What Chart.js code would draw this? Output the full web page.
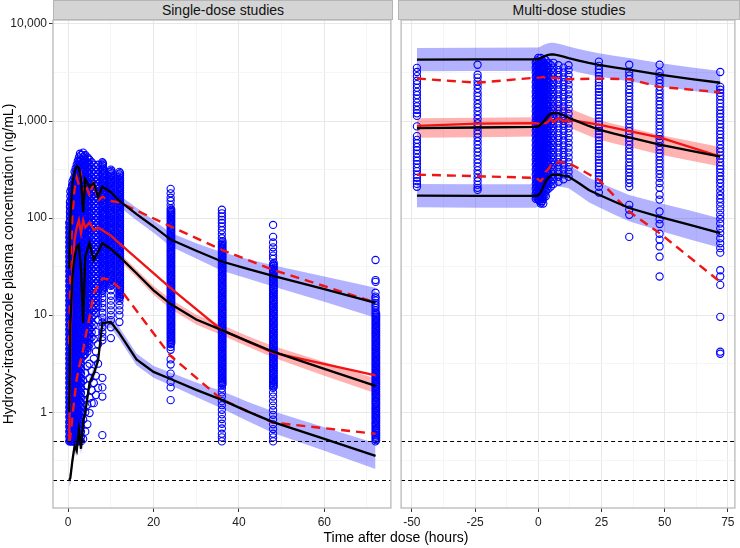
<!DOCTYPE html>
<html lang="en">
<head>
  <meta charset="UTF-8" />
  <title>Hydroxy-itraconazole VPC</title>
  <script src="https://cdn.jsdelivr.net/npm/chart.js"></script>
  <style>
    body {
      margin: 0;
      background: #fff;
      font-family: 'Liberation Sans', Arial, sans-serif;
    }
    #wrap {
      position: relative;
      width: 740px;
      height: 548px;
      overflow: hidden;
    }
    canvas {
      position: absolute;
      top: 0;
    }
    .strip {
      position: absolute;
      top: 0;
      height: 20px;
      background: #d4d4d4;
      border: 1px solid #b5b5b5;
      box-sizing: border-box;
      font-size: 14px;
      line-height: 18px;
      text-align: center;
      color: #111;
    }
    .xtitle {
      position: absolute;
      top: 529px;
      left: 53px;
      width: 686px;
      text-align: center;
      font-size: 14px;
      color: #000;
    }
  </style>
</head>
<body>

<div id="wrap">
  <canvas id="sdChart" width="396" height="548" style="left:0"></canvas>
  <canvas id="mdChart" width="344" height="548" style="left:396px"></canvas>
  <div class="strip" style="left:53px;width:340px">Single-dose studies</div>
  <div class="strip" style="left:398px;width:342px">Multi-dose studies</div>
  <div class="xtitle">Time after dose (hours)</div>
</div>

<script>
  // axis ticks
  const yMajor = [1, 10, 100, 1000, 10000];
  const yMinor = [0.316, 3.16, 31.6, 316, 3162];
  const sdXMajor = [0, 20, 40, 60];
  const sdXMinor = [10, 30, 50, 70];
  const mdXMajor = [-50, -25, 0, 25, 50, 75];
  const mdXMinor = [-37.5, -12.5, 12.5, 37.5, 62.5];
  const lloqValues = [0.5, 0.2];

  // ---- single-dose: simulated percentiles (black) + confidence bands
  const sdSimTime = [0.25,0.5,1,1.5,2,2.5,3,3.5,4,5,6,7,8,10,12,16,20,24,30,36,42,48,60,72];
  const sdSimP95 = [30,100,230,300,340,330,250,115,250,210,230,165,210,185,150,110,82,60,46,35.7,30,25.4,18.5,13.4];
  const sdSimP50 = [1,8,25,40,50,53,30,8.3,40,55,37,45,55,48,40,27,18,13,9,7,5.4,4.2,2.8,1.87];
  const sdSimP05 = [0.2,0.21,0.32,0.45,0.4,0.66,0.42,0.8,1.0,2.0,2.5,3.4,8.3,8.5,6.5,3.5,2.6,2.2,1.7,1.34,1.02,0.79,0.53,0.355];
  const sdHiBandLo = [26.1,87,200,261,296,287,218,100,218,183,200,144,183,161,131,95,70.5,51,38.3,28.7,23.8,19.7,13.7,9.4];
  const sdHiBandHi = [34.4,115,264,345,390,379,287,132,287,241,264,189,241,212,172,128,95,70.5,55,44.4,37.8,32.7,25,19.1];
  const sdMedBandLo = [0.91,7.3,22.8,36.5,45.6,48.3,27.4,7.6,36.5,50.2,33.7,41,50.2,43.8,36.5,24.6,16.2,11.6,8.0,6.2,4.76,3.66,2.38,1.57];
  const sdMedBandHi = [1.1,8.8,27.4,43.9,54.8,58.1,32.9,9.1,43.9,60.3,40.6,49.3,60.3,52.6,43.9,29.6,20,14.6,10.1,7.9,6.1,4.82,3.29,2.22];
  const sdLoBandLo = [0.174,0.183,0.279,0.39,0.35,0.575,0.366,0.7,0.87,1.74,2.18,2.96,7.2,7.4,5.66,3.05,2.26,1.89,1.43,1.09,0.81,0.61,0.4,0.26];
  const sdLoBandHi = [0.23,0.241,0.367,0.52,0.46,0.76,0.482,0.92,1.15,2.3,2.87,3.9,9.5,9.8,7.46,4.02,2.99,2.56,2.02,1.65,1.28,1.02,0.7,0.48];

  // single-dose: observed percentiles (red)
  const sdBinTime = [0.25,0.5,1,1.5,2,2.5,3,3.5,4,5,6,7,8,10,12,24,36,48,72];
  const sdObsP95 = [5,30,110,200,260,220,270,160,230,170,240,150,166,150,145,82,47,29.3,13.5];
  const sdObsP50 = [0.5,5,30,60,80,95,70,95,80,90,75,80,75,66,55,19,7,4.1,2.4];
  const sdObsP05 = [0.5,0.56,0.9,1.44,2.2,2.9,3.5,4.4,5.8,9.6,17,20,24,23,19,3.8,1.35,0.78,0.6];

  // single-dose: observations, one list per sampling time
  const sdObsTime = [0.25,0.5,0.75,1,1.25,1.5,2,2.5,3,3.5,4,4.5,5,5.5,6,6.5,7,8,10,12,24,36,48,72,
                     0.4,0.9,1.75,2.25,2.75,3.75,4.75,8.15,10.15,12.15,24.15,36.15,48.15,72.15];
  const sdObsConc = [
    [0.5,0.56,0.63,0.71,0.79,0.89,1.0,1.12,1.26,1.41,1.58,1.78,2.0,2.24,2.51,2.82,3.16,3.55,3.98,4.47,5.01,5.62,6.31,7.08,7.94,8.91,10,11.2,12.6,14.1,15.8,17.8,20,22.4,25.1,28.2,31.6,35.5,39.8,44.7,50.1,56.2,63.1,70.8,79.4,89.1],
    [0.5,0.53,0.59,0.67,0.75,0.84,0.94,1.06,1.19,1.33,1.5,1.68,1.88,2.11,2.37,2.66,2.99,3.35,3.76,4.22,4.73,5.31,5.96,6.68,7.5,8.41,9.44,10.6,11.9,13.3,15,16.8,18.8,21.1,23.7,26.6,29.9,33.5,37.6,42.2,47.3,53.1,59.6,66.8,75,84.1,94.4,106,119,133,150,168,188],
    [0.5,0.56,0.63,0.71,0.79,0.89,1.0,1.12,1.26,1.41,1.58,1.78,2.0,2.24,2.51,2.82,3.16,3.55,3.98,4.47,5.01,5.62,6.31,7.08,7.94,8.91,10,11.2,12.6,14.1,15.8,17.8,20,22.4,25.1,28.2,31.6,35.5,39.8,44.7,50.1,56.2,63.1,70.8,79.4,89.1,100,112,126,141,158,178,200],
    [0.5,0.53,0.59,0.67,0.75,0.84,0.94,1.06,1.19,1.33,1.5,1.68,1.88,2.11,2.37,2.66,2.99,3.35,3.76,4.22,4.73,5.31,5.96,6.68,7.5,8.41,9.44,10.6,11.9,13.3,15,16.8,18.8,21.1,23.7,26.6,29.9,33.5,37.6,42.2,47.3,53.1,59.6,66.8,75,84.1,94.4,106,119,133,150,168,188,211,237],
    [0.5,0.56,0.63,0.71,0.79,0.89,1.0,1.12,1.26,1.41,1.58,1.78,2.0,2.24,2.51,2.82,3.16,3.55,3.98,4.47,5.01,5.62,6.31,7.08,7.94,8.91,10,11.2,12.6,14.1,15.8,17.8,20,22.4,25.1,28.2,31.6,35.5,39.8,44.7,50.1,56.2,63.1,70.8,79.4,89.1,100,112,126,141,158,178,200,224,251],
    [0.5,0.53,0.59,0.67,0.75,0.84,0.94,1.06,1.19,1.33,1.5,1.68,1.88,2.11,2.37,2.66,2.99,3.35,3.76,4.22,4.73,5.31,5.96,6.68,7.5,8.41,9.44,10.6,11.9,13.3,15,16.8,18.8,21.1,23.7,26.6,29.9,33.5,37.6,42.2,47.3,53.1,59.6,66.8,75,84.1,94.4,106,119,133,150,168,188,211,237,266,299],
    [0.5,0.56,0.63,0.71,0.79,0.89,1.0,1.12,1.26,1.41,1.58,1.78,2.0,2.24,2.51,2.82,3.16,3.55,3.98,4.47,5.01,5.62,6.31,7.08,7.94,8.91,10,11.2,12.6,14.1,15.8,17.8,20,22.4,25.1,28.2,31.6,35.5,39.8,44.7,50.1,56.2,63.1,70.8,79.4,89.1,100,112,126,141,158,178,200,224,251,282,316,355],
    [0.5,0.53,0.59,0.67,0.75,0.84,0.94,1.06,1.19,1.33,1.5,1.68,1.88,2.11,2.37,2.66,2.99,3.35,3.76,4.22,4.73,5.31,5.96,6.68,7.5,8.41,9.44,10.6,11.9,13.3,15,16.8,18.8,21.1,23.7,26.6,29.9,33.5,37.6,42.2,47.3,53.1,59.6,66.8,75,84.1,94.4,106,119,133,150,168,188,211,237,266,299,335,376,422],
    [0.5,0.56,0.63,0.71,0.79,0.89,1.0,1.12,1.26,1.41,1.58,1.78,2.0,2.24,2.51,2.82,3.16,3.55,3.98,4.47,5.01,5.62,6.31,7.08,7.94,8.91,10,11.2,12.6,14.1,15.8,17.8,20,22.4,25.1,28.2,31.6,35.5,39.8,44.7,50.1,56.2,63.1,70.8,79.4,89.1,100,112,126,141,158,178,200,224,251,282,316,355,398,447],
    [0.53,0.84,1.33,2.11,3.76,4.22,4.73,5.31,5.96,6.68,7.5,8.41,9.44,10.6,11.9,13.3,15,16.8,18.8,21.1,23.7,26.6,29.9,33.5,37.6,42.2,47.3,53.1,59.6,66.8,75,84.1,94.4,106,119,133,150,168,188,211,237,266,299,335,376,422,473],
    [0.63,1.0,1.58,2.51,3.98,4.47,5.01,5.62,6.31,7.08,7.94,8.91,10,11.2,12.6,14.1,15.8,17.8,20,22.4,25.1,28.2,31.6,35.5,39.8,44.7,50.1,56.2,63.1,70.8,79.4,89.1,100,112,126,141,158,178,200,224,251,282,316,355,398,447],
    [0.75,1.19,1.88,2.99,4.22,4.73,5.31,5.96,6.68,7.5,8.41,9.44,10.6,11.9,13.3,15,16.8,18.8,21.1,23.7,26.6,29.9,33.5,37.6,42.2,47.3,53.1,59.6,66.8,75,84.1,94.4,106,119,133,150,168,188,211,237,266,299,335,376,422],
    [0.98,1.41,2.24,3.16,5.01,5.62,6.31,7.08,7.94,8.91,10,11.2,12.6,14.1,15.8,17.8,20,22.4,25.1,28.2,31.6,35.5,39.8,44.7,50.1,56.2,63.1,70.8,79.4,89.1,100,112,126,141,158,178,200,224,251,282,316,355,398],
    [1.24,1.68,2.66,5.96,6.68,7.5,8.41,9.44,10.6,11.9,13.3,15,16.8,18.8,21.1,23.7,26.6,29.9,33.5,37.6,42.2,47.3,53.1,59.6,66.8,75,84.1,94.4,106,119,133,150,168,188,211,237,266,299,335,376],
    [1.24,2.0,3.55,5.62,7.94,10,11.2,12.6,14.1,15.8,17.8,20,22.4,25.1,28.2,31.6,35.5,39.8,44.7,50.1,56.2,63.1,70.8,79.4,89.1,100,112,126,141,158,178,200,224,251,282,316,355],
    [1.5,2.37,4.22,6.68,10.6,11.9,13.3,15,16.8,18.8,21.1,23.7,26.6,29.9,33.5,37.6,42.2,47.3,53.1,59.6,66.8,75,84.1,94.4,106,119,133,150,168,188,211,237,266,299,335],
    [1.78,3.16,5.01,8.91,12.6,14.1,15.8,17.8,20,22.4,25.1,28.2,31.6,35.5,39.8,44.7,50.1,56.2,63.1,70.8,79.4,89.1,100,112,126,141,158,178,200,224,251,282,316,355],
    [0.58,1.45,1.8,2.26,5.5,5.96,6.68,7.5,8.41,9.44,10.6,11.9,13.3,15,16.8,17.8,18.8,20,21.1,22.4,23.7,25.1,26.6,28.2,29.9,31.6,33.5,35.5,37.6,39.8,42.2,44.7,47.3,50.1,53.1,56.2,59.6,63.1,66.8,70.8,75,79.4,84.1,89.1,94.4,100,106,112,119,126,133,141,150,158,168,178,188,200,211,224,237,251,266,282,299,316,335,355,376],
    [5.8,7.5,8.9,10,11.2,12.6,14.1,15.8,18,20,21.1,22.4,23.7,25.1,26.6,28.2,29.9,31.6,33.5,35.5,37.6,39.8,42.2,44.7,47.3,50.1,53.1,56.2,59.6,63.1,66.8,70.8,75,79.4,84.1,89.1,94.4,100,106,112,119,126,133,141,150,158,168,178,188,200,211,224,237,251,266,282,299,316],
    [8.5,10,11.2,12.6,14,15,15.8,16.8,17.8,18.8,20,21.1,22.4,23.7,25.1,26.6,28.2,29.9,31.6,33.5,35.5,37.6,39.8,42.2,44.7,47.3,50.1,53.1,56.2,59.6,63.1,66.8,70.8,75,79.4,84.1,89.1,94.4,100,106,112,119,126,133,141,150,158,168,178,188,200,211,224,237,251,266,282,299],
    [1.33,1.8,2.05,2.5,3.1,3.5,4.4,4.7,5.01,5.31,5.62,5.96,6.31,6.68,7.08,7.5,7.94,8.41,8.91,9.44,10,10.6,11.2,11.9,12.6,13.3,14.1,15,15.8,16.8,17.8,18.8,20,21.1,22.4,23.7,25.1,26.6,28.2,29.9,31.6,33.5,35.5,37.6,39.8,42.2,44.7,47.3,50.1,53.1,56.2,59.6,63.1,66.8,70.8,75,79.4,84.1,89.1,94.4,100,106,112,119,126,137,150,162,180,200],
    [0.5,0.55,0.6,0.68,0.76,0.85,0.95,1.06,1.18,1.3,1.45,1.6,1.75,1.88,2.0,2.11,2.24,2.37,2.51,2.66,2.82,2.99,3.16,3.35,3.55,3.76,3.98,4.22,4.47,4.73,5.01,5.31,5.62,5.96,6.31,6.68,7.08,7.5,7.94,8.41,8.91,9.44,10,10.6,11.2,11.9,12.6,13.3,14.1,15,15.8,16.8,17.8,18.8,20,21.1,22.4,23.7,25.1,26.6,28.2,29.9,31.6,33.5,35.5,37.6,39.8,42.2,44.7,47.3,50.1,53.1,56.2,62,68,75,82,89,96,104,112,122],
    [0.5,0.55,0.6,0.67,0.75,0.84,0.94,1.05,1.17,1.3,1.45,1.6,1.78,1.88,2.0,2.11,2.24,2.37,2.51,2.66,2.82,2.99,3.16,3.35,3.55,3.76,3.98,4.22,4.47,4.73,5.01,5.31,5.62,5.96,6.31,6.68,7.08,7.5,7.94,8.41,8.91,9.44,10,10.6,11.2,11.9,12.6,13.3,14.1,15,15.8,16.8,17.8,18.8,20,21.1,22.4,23.7,25.1,26.6,28.2,29.9,31.6,33.5,38,41,45,50,56,64,85],
    [0.5,0.53,0.56,0.59,0.63,0.67,0.71,0.75,0.79,0.84,0.89,0.94,1.0,1.06,1.12,1.19,1.26,1.33,1.41,1.5,1.58,1.68,1.78,1.88,2.0,2.11,2.24,2.37,2.51,2.66,2.82,2.99,3.16,3.35,3.55,3.76,3.98,4.22,4.47,4.73,5.01,5.31,5.62,5.96,6.31,6.68,7.08,7.5,7.94,8.41,8.91,9.44,10,10.6,11.2,11.9,12.6,13.3,14.1,15,15.5,17,22,23,37],
    // second readings near the same nominal times
    [0.515,0.577,0.648,0.727,0.816,0.916,1.03,1.15,1.29,1.45,1.63,1.83,2.05,2.3,2.58,2.9,3.25,3.65,4.1,4.6,5.16,5.78,6.49,7.29,8.17,9.17,10.3,11.5,13,14.5,16.3,18.3,20.5,23,25.8,29,32.5,36.5,41,46,51.6,57.8,64.9,72.9,81.7,91.7,103,115,130,145],
    [0.545,0.611,0.686,0.77,0.865,0.97,1.09,1.22,1.37,1.54,1.73,1.94,2.17,2.44,2.74,3.07,3.45,3.87,4.34,4.87,5.46,6.13,6.88,7.72,8.66,9.71,10.9,12.2,13.7,15.4,17.3,19.4,21.7,24.4,27.4,30.7,34.5,38.7,43.4,48.7,54.6,61.3,68.8,77.2,86.6,97.1,109,122,137,154,173,194,217],
    [0.515,0.577,0.648,0.727,0.816,0.916,1.03,1.15,1.29,1.45,1.63,1.83,2.05,2.3,2.58,2.9,3.25,3.65,4.1,4.6,5.16,5.78,6.49,7.29,8.17,9.17,10.3,11.5,13,14.5,16.3,18.3,20.5,23,25.8,29,32.5,36.5,41,46,51.6,57.8,64.9,72.9,81.7,91.7,103,115,130,145,163,183,205,230,258,290,325],
    [0.545,0.611,0.686,0.77,0.865,0.97,1.09,1.22,1.37,1.54,1.73,1.94,2.17,2.44,2.74,3.07,3.45,3.87,4.34,4.87,5.46,6.13,6.88,7.72,8.66,9.71,10.9,12.2,13.7,15.4,17.3,19.4,21.7,24.4,27.4,30.7,34.5,38.7,43.4,48.7,54.6,61.3,68.8,77.2,86.6,97.1,109,122,137,154,173,194,217,244,274,307,345,387],
    [0.515,0.577,0.648,0.727,0.816,0.916,1.03,1.15,1.29,1.45,1.63,1.83,2.05,2.3,2.58,2.9,3.25,3.65,4.1,4.6,5.16,5.78,6.49,7.29,8.17,9.17,10.3,11.5,13,14.5,16.3,18.3,20.5,23,25.8,29,32.5,36.5,41,46,51.6,57.8,64.9,72.9,81.7,91.7,103,115,130,145,163,183,205,230,258,290,325,365,410,460],
    [3.87,4.34,4.87,5.46,6.13,6.88,7.72,8.66,9.71,10.9,12.2,13.7,15.4,17.3,19.4,21.7,24.4,27.4,30.7,34.5,38.7,43.4,48.7,54.6,61.3,68.8,77.2,86.6,97.1,109,122,137,154,173,194,217,244,274,307,345,387,434],
    [4.6,5.16,5.78,6.49,7.29,8.17,9.17,10.3,11.5,13,14.5,16.3,18.3,20.5,23,25.8,29,32.5,36.5,41,46,51.6,57.8,64.9,72.9,81.7,91.7,103,115,130,145,163,183,205,230,258,290,325,365,410],
    [18.3,19.4,20.5,21.7,23,24.4,25.8,27.4,29,30.7,32.5,34.5,36.5,38.7,41,43.4,46,48.7,51.6,54.6,57.8,61.3,64.9,68.8,72.9,77.2,81.7,86.6,91.7,97.1,103,109,115,122,130,137,145,154,163,173,183,194,205,217,230,244,258,274,290,307,325,345,365],
    [20.5,21.7,23,24.4,25.8,27.4,29,30.7,32.5,34.5,36.5,38.7,41,43.4,46,48.7,51.6,54.6,57.8,61.3,64.9,68.8,72.9,77.2,81.7,86.6,91.7,97.1,103,109,115,122,130,137,145,154,163,173,183,194,205,217,230,244,258,274,290,307],
    [15.4,16.3,17.3,18.3,19.4,20.5,21.7,23,24.4,25.8,27.4,29,30.7,32.5,34.5,36.5,38.7,41,43.4,46,48.7,51.6,54.6,57.8,61.3,64.9,68.8,72.9,77.2,81.7,86.6,91.7,97.1,103,109,115,122,130,137,145,154,163,173,183,194,205,217,230,244,258,274,290],
    [5.16,5.46,5.78,6.13,6.49,6.88,7.29,7.72,8.17,8.66,9.17,9.71,10.3,10.9,11.5,12.2,13,13.7,14.5,15.4,16.3,17.3,18.3,19.4,20.5,21.7,23,24.4,25.8,27.4,29,30.7,32.5,34.5,36.5,38.7,41,43.4,46,48.7,51.6,54.6,57.8,61.3,64.9,68.8,72.9,77.2,81.7,86.6,91.7,97.1,103,109,115,122],
    [1.94,2.05,2.17,2.3,2.44,2.58,2.74,2.9,3.07,3.25,3.45,3.65,3.87,4.1,4.34,4.6,4.87,5.16,5.46,5.78,6.13,6.49,6.88,7.29,7.72,8.17,8.66,9.17,9.71,10.3,10.9,11.5,12.2,13,13.7,14.5,15.4,16.3,17.3,18.3,19.4,20.5,21.7,23,24.4,25.8,27.4,29,30.7,32.5,34.5,36.5,38.7,41,43.4,46,48.7,51.6,54.6,57.8],
    [1.83,1.94,2.05,2.17,2.3,2.44,2.58,2.74,2.9,3.07,3.25,3.45,3.65,3.87,4.1,4.34,4.6,4.87,5.16,5.46,5.78,6.13,6.49,6.88,7.29,7.72,8.17,8.66,9.17,9.71,10.3,10.9,11.5,12.2,13,13.7,14.5,15.4,16.3,17.3,18.3,19.4,20.5,21.7,23,24.4,25.8,27.4,29,30.7,32.5,34.5],
    [0.515,0.545,0.577,0.611,0.648,0.686,0.727,0.77,0.816,0.865,0.916,0.97,1.03,1.09,1.15,1.22,1.29,1.37,1.45,1.54,1.63,1.73,1.83,1.94,2.05,2.17,2.3,2.44,2.58,2.74,2.9,3.07,3.25,3.45,3.65,3.87,4.1,4.34,4.6,4.87,5.16,5.46,5.78,6.13,6.49,6.88,7.29,7.72,8.17,8.66,9.17,9.71,10.3]
  ];

  // ---- multi-dose: simulated percentiles + bands
  const mdSimTime = [-48,-24,-1,0,1,2,3,4,5,6,8,10,12,16,20,24,30,36,48,60,72];
  const mdSimP95 = [4290,4310,4330,4350,4450,4600,4720,4800,4850,4850,4750,4600,4450,4200,3980,3800,3580,3380,3000,2720,2480];
  const mdSimP50 = [847,858,870,880,920,980,1060,1140,1190,1210,1200,1150,1080,980,890,815,740,680,570,495,430];
  const mdSimP05 = [170,169,169,172,185,210,240,262,275,280,278,274,268,230,195,174,148,127,103,85,70];
  const mdHiBandLo = [3255,3270,3285,3300,3376,3490,3581,3641,3679,3679,3603,3490,3376,3186,3019,2883,2716,2564,2276,2063,1881];
  const mdHiBandHi = [5655,5680,5707,5733,5865,6063,6221,6326,6392,6392,6260,6063,5865,5536,5246,5008,4718,4455,3954,3585,3269];
  const mdMedBandLo = [673,681,691,699,730,778,842,905,945,961,953,913,858,778,707,647,588,540,453,393,341];
  const mdMedBandHi = [1066,1080,1095,1108,1158,1234,1334,1435,1498,1523,1511,1448,1360,1234,1120,1026,932,856,718,623,541];
  const mdLoBandLo = [129,128,128,130.5,140,159,182,199,209,212,211,208,203,173,146,129,109,93,74,60,49.5];
  const mdLoBandHi = [224,223,223,227,244,277,316,345,362,369,366,361,353,305,260,234,201,173,143,120,99];

  // multi-dose: observed percentiles
  const mdBinTime = [-48,-24,-1,0,1,2,3,4,5,6,8,10,12,24,36,48,72];
  const mdObsP95 = [2740,2480,2800,2800,2820,2850,2750,2700,2780,2800,2750,2650,2700,2740,2700,2250,1980];
  const mdObsP50 = [890,940,950,940,920,960,950,990,1070,970,1070,990,1030,920,785,680,430];
  const mdObsP05 = [280,270,260,250,240,260,300,320,350,350,380,375,370,248,116,70,22];

  // multi-dose: observations
  const mdObsTime = [-48,-24,-1,-0.5,0,0.5,1,1.5,2,3,4,5,6,8,10,12,24,36,48,72,-0.75,0.25,1.25,2.5,3.5];
  const mdObsConc = [
    [3530,3200,2900,2600,2400,2200,2000,1850,1700,1550,1420,1300,1200,1130,880,700,640,590,540,500,460,420,390,360,330,305,280,260,240,225,210],
    [3800,3000,2800,2550,2350,2150,1950,1800,1650,1500,1380,1260,1150,1050,950,880,800,740,680,620,570,520,480,440,400,370,340,310,285,260,240,220,205,195],
    [158,178,200,224,251,282,316,355,398,447,501,562,631,708,794,891,1000,1122,1259,1413,1585,1778,1995,2239,2512,2818,3162,3548,3981],
    [168,188,211,237,266,299,335,376,422,473,531,596,668,750,841,944,1059,1189,1334,1496,1679,1884,2113,2371,2661,2985,3350,3758,4217],
    [158,178,200,224,251,282,316,355,398,447,501,562,631,708,794,891,1000,1122,1259,1413,1585,1778,1995,2239,2512,2818,3162,3548,3981,4467],
    [150,168,188,211,237,266,299,335,376,422,473,531,596,668,750,841,944,1059,1189,1334,1496,1679,1884,2113,2371,2661,2985,3350,3758],
    [141,158,178,200,224,251,282,316,355,398,447,501,562,631,708,794,891,1000,1122,1259,1413,1585,1778,1995,2239,2512,2818,3162,3548,3981,4467],
    [150,168,188,211,237,266,299,335,376,422,473,531,596,668,750,841,944,1059,1189,1334,1496,1679,1884,2113,2371,2661,2985,3350,3758,4217],
    [141,158,178,200,224,251,282,316,355,398,447,501,562,631,708,794,891,1000,1122,1259,1413,1585,1778,1995,2239,2512,2818,3162,3548,3981],
    [168,188,211,237,266,299,335,376,422,473,531,596,668,750,841,944,1059,1189,1334,1496,1679,1884,2113,2371,2661,2985,3350,3758,4217],
    [200,224,251,282,316,355,398,447,501,562,631,708,794,891,1000,1122,1259,1413,1585,1778,1995,2239,2512,2818,3162,3548,3981],
    [211,237,266,299,335,376,422,473,531,596,668,750,841,944,1059,1189,1334,1496,1679,1884,2113,2371,2661,2985,3350,3758],
    [224,251,282,316,355,398,447,501,562,631,708,794,891,1000,1122,1259,1413,1585,1778,1995,2239,2512,2818,3162,3548,3981],
    [237,266,299,335,376,422,473,531,596,668,750,841,944,1059,1189,1334,1496,1679,1884,2113,2371,2661,2985,3350,3758],
    [251,282,316,355,398,447,501,562,631,708,794,891,1000,1122,1259,1413,1585,1778,1995,2239,2512,2818,3162,3548],
    [266,299,335,376,422,473,531,596,668,750,841,944,1059,1189,1334,1496,1679,1884,2113,2371,2661,2985,3350,3758],
    [4100,3700,3400,3150,2900,2700,2500,2300,2150,2000,1850,1700,1580,1460,1350,1250,1150,1070,990,920,850,790,730,680,630,580,540,500,460,430,400,370,340,315,290,270,250,230,210,183],
    [3800,3200,2950,2700,2500,2300,2100,1950,1800,1650,1520,1400,1290,1190,1100,1010,930,860,790,730,670,620,570,520,480,440,410,375,345,320,295,270,250,230,210,137,122,108,64],
    [3800,3150,2900,2650,2450,2250,2050,1900,1750,1600,1480,1360,1250,1150,1060,980,900,830,760,700,650,600,550,505,465,430,395,365,335,310,285,260,230,205,174,155,117,97,87,69,60,51,40,25],
    [3200,2250,2100,1950,1800,1650,1520,1400,1290,1190,1100,1010,930,860,790,730,670,620,570,520,480,440,410,375,345,320,295,270,250,230,210,190,172,158,145,132,120,108,98,88,78,70,62,55,49,44,29,25,20.5,9.6,4.2,4.0],
    // second readings inside the dosing block
    [163,183,206,231,258,290,325,365,410,460,516,578,649,729,817,917,1029,1155,1296,1454,1631,1830,2053,2304,2585,2900,3254,3652,4097],
    [154,173,193,217,244,274,308,345,387,434,487,546,613,687,772,866,971,1090,1224,1373,1540,1728,1939,2175,2440,2739,3072,3448,3868],
    [145,163,183,206,231,258,290,325,365,410,460,516,578,649,729,817,917,1029,1155,1296,1454,1631,1830,2053,2304,2585,2900,3254,3652,4097],
    [173,193,217,244,274,308,345,387,434,487,546,613,687,772,866,971,1090,1224,1373,1540,1728,1939,2175,2440,2739,3072,3448,3868,4340],
    [206,231,258,290,325,365,410,460,516,578,649,729,817,917,1029,1155,1296,1454,1631,1830,2053,2304,2585,2900,3254,3652]
  ];

  const RED = '#f01414';
  const BLUE_BAND = 'rgba(0,0,255,0.3)';
  const RED_BAND = 'rgba(255,0,0,0.3)';

  Chart.defaults.font.family = "'Liberation Sans', Arial, sans-serif";

  function xy(ts, vs) {
    return ts.map((t, i) => ({ x: t, y: vs[i] }));
  }

  function obsPoints(ts, cols) {
    const out = [];
    cols.forEach((col, i) => col.forEach(v => out.push({ x: ts[i], y: v })));
    return out;
  }

  function lineDs(ts, vs, color, dash) {
    return {
      type: 'line', data: xy(ts, vs), borderColor: color, borderWidth: dash ? 2.4 : 2.3,
      borderDash: dash ? [9, 6] : [], pointRadius: 0, tension: 0, fill: false, order: 0
    };
  }

  function bandDs(ts, lo, hi, color) {
    return [
      { type: 'line', data: xy(ts, hi), borderColor: 'rgba(0,0,0,0)', borderWidth: 0, pointRadius: 0, tension: 0, fill: false, order: 2 },
      { type: 'line', data: xy(ts, lo), borderColor: 'rgba(0,0,0,0)', borderWidth: 0, pointRadius: 0, tension: 0, fill: '-1', backgroundColor: color, order: 2 }
    ];
  }

  function pointDs(ts, cols) {
    return {
      type: 'scatter', data: obsPoints(ts, cols), pointRadius: 3.6, pointBorderWidth: 1.1,
      pointBorderColor: '#0000ff', pointBackgroundColor: 'rgba(0,0,0,0)', order: 1
    };
  }

  function axisX(min, max, major, minor) {
    return {
      type: 'linear', min, max,
      afterBuildTicks: s => { s.ticks = major.concat(minor).map(v => ({ value: v })); },
      afterFit: s => { s.height = 40; },
      border: { display: false },
      grid: {
        color: c => major.includes(c.tick.value) ? '#e8e8e8' : '#f5f5f5',
        tickColor: c => major.includes(c.tick.value) ? '#333' : 'rgba(0,0,0,0)',
        tickLength: 4
      },
      ticks: {
        autoSkip: false, maxRotation: 0, padding: 3, color: '#222', font: { size: 12 },
        callback: v => major.includes(v) ? String(v) : ''
      }
    };
  }

  function axisY(show) {
    return {
      type: 'logarithmic', min: 0.103, max: 10990,
      afterBuildTicks: s => { s.ticks = yMajor.concat(yMinor).map(v => ({ value: v })); },
      afterFit: s => { s.width = show ? 53 : 0; },
      border: { display: false },
      grid: {
        color: c => yMajor.includes(c.tick.value) ? '#e8e8e8' : '#f5f5f5',
        tickColor: c => yMajor.includes(c.tick.value) ? '#333' : 'rgba(0,0,0,0)',
        tickLength: 4,
        drawTicks: show
      },
      ticks: {
        display: show, autoSkip: false, padding: 2, color: '#222', font: { size: 12 },
        callback: v => yMajor.includes(v) ? v.toLocaleString('en-US') : ''
      },
      title: {
        display: show, text: 'Hydroxy-itraconazole plasma concentration (ng/mL)',
        color: '#000', font: { size: 14 }, padding: { top: 1, bottom: 0 }
      }
    };
  }

  // LLOQ dashed lines + panel frame
  const panelDeco = {
    id: 'panelDeco',
    afterDatasetsDraw(chart) {
      const { ctx, chartArea: a, scales: { y } } = chart;
      ctx.save();
      ctx.beginPath();
      ctx.rect(a.left, a.top, a.width, a.height);
      ctx.clip();
      ctx.setLineDash([4, 3]);
      ctx.strokeStyle = '#000';
      ctx.lineWidth = 1;
      lloqValues.forEach(v => {
        const py = Math.round(y.getPixelForValue(v)) + 0.5;
        ctx.beginPath();
        ctx.moveTo(a.left, py);
        ctx.lineTo(a.right, py);
        ctx.stroke();
      });
      ctx.restore();
      ctx.save();
      ctx.strokeStyle = '#b8b8b8';
      ctx.lineWidth = 1.3;
      ctx.strokeRect(a.left, a.top, a.width, a.height);
      ctx.restore();
    }
  };

  function makeChart(id, padding, xScale, yScale, sets) {
    return new Chart(document.getElementById(id), {
      type: 'line',
      data: { datasets: sets },
      options: {
        responsive: false, animation: false, devicePixelRatio: 1,
        layout: { padding },
        plugins: { legend: { display: false }, tooltip: { enabled: false } },
        scales: { x: xScale, y: yScale }
      },
      plugins: [panelDeco]
    });
  }

  makeChart('sdChart', { top: 20, right: 3, left: 0, bottom: 0 },
    axisX(-3.56, 75.6, sdXMajor, sdXMinor), axisY(true), [
      ...bandDs(sdSimTime, sdHiBandLo, sdHiBandHi, BLUE_BAND),
      ...bandDs(sdSimTime, sdMedBandLo, sdMedBandHi, RED_BAND),
      ...bandDs(sdSimTime, sdLoBandLo, sdLoBandHi, BLUE_BAND),
      pointDs(sdObsTime, sdObsConc),
      lineDs(sdSimTime, sdSimP95, '#000'),
      lineDs(sdSimTime, sdSimP50, '#000'),
      lineDs(sdSimTime, sdSimP05, '#000'),
      lineDs(sdBinTime, sdObsP95, RED, true),
      lineDs(sdBinTime, sdObsP50, RED),
      lineDs(sdBinTime, sdObsP05, RED, true)
    ]);

  makeChart('mdChart', { top: 20, right: 1, left: 2, bottom: 0 },
    axisX(-54.26, 77.8, mdXMajor, mdXMinor), axisY(false), [
      ...bandDs(mdSimTime, mdHiBandLo, mdHiBandHi, BLUE_BAND),
      ...bandDs(mdSimTime, mdMedBandLo, mdMedBandHi, RED_BAND),
      ...bandDs(mdSimTime, mdLoBandLo, mdLoBandHi, BLUE_BAND),
      pointDs(mdObsTime, mdObsConc),
      lineDs(mdSimTime, mdSimP95, '#000'),
      lineDs(mdSimTime, mdSimP50, '#000'),
      lineDs(mdSimTime, mdSimP05, '#000'),
      lineDs(mdBinTime, mdObsP95, RED, true),
      lineDs(mdBinTime, mdObsP50, RED),
      lineDs(mdBinTime, mdObsP05, RED, true)
    ]);
</script>

</body>
</html>
